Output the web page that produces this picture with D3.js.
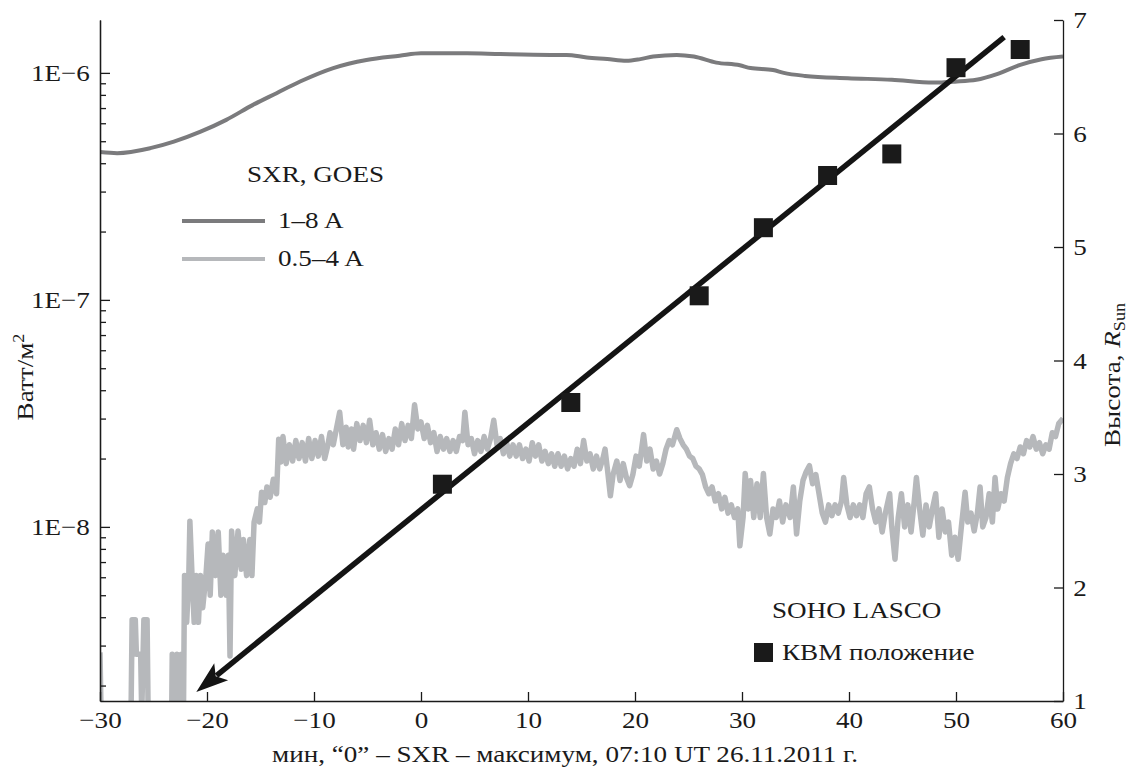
<!DOCTYPE html>
<html lang="ru">
<head>
<meta charset="UTF-8">
<title>SXR GOES и SOHO LASCO</title>
<script src="https://cdn.jsdelivr.net/npm/d3@7"></script>
<style>
  body { margin: 0; background: #fff; }
  svg { display: block; }
  text { font-family: "Liberation Serif", "DejaVu Serif", serif; fill: #1a1a1a; }
</style>
</head>
<body>
<div id="chart"></div>
<script>
// ---- data ----
const timeTicks = [-30, -20, -10, 0, 10, 20, 30, 40, 50, 60];
const heightTicks = [1, 2, 3, 4, 5, 6, 7];
const fluxMajorTicks = [1e-8, 1e-7, 1e-6];

// GOES 1-8 A, [minutes, W/m2]
const sxrLong = [
  [-30, 4.48e-7], [-28.4, 4.43e-7], [-25.3, 4.66e-7], [-23.1, 4.98e-7], [-20.6, 5.51e-7],
  [-18.2, 6.21e-7], [-15.7, 7.23e-7], [-13.5, 8.14e-7], [-11.3, 9.16e-7], [-8.2, 1.05e-6],
  [-5.1, 1.14e-6], [-2.0, 1.19e-6], [0, 1.22e-6], [4.3, 1.22e-6], [7.4, 1.21e-6],
  [12.1, 1.2e-6], [13.6, 1.2e-6], [15.5, 1.17e-6], [17.4, 1.15e-6], [19.2, 1.13e-6],
  [20.5, 1.15e-6], [21.7, 1.18e-6], [23.9, 1.2e-6], [25.5, 1.18e-6], [27.6, 1.11e-6],
  [29.8, 1.08e-6], [30.8, 1.05e-6], [32.9, 1.03e-6], [33.9, 1.0e-6], [35.9, 0.97e-6],
  [39.9, 0.948e-6], [44.0, 0.932e-6], [47.9, 0.906e-6], [49.9, 0.915e-6], [51.9, 0.932e-6],
  [53.9, 0.99e-6], [56.0, 1.084e-6], [58.0, 1.149e-6], [60.0, 1.18e-6]
];

// GOES 0.5-4 A, [minutes, W/m2] (values under 1.7e-9 fall off the axis)
const sxrShort = [
  [-30, 2.8e-9], [-29.9, 1.5e-9], [-27.1, 1.5e-9], [-27.0, 3.9e-9], [-26.7, 3.9e-9],
  [-26.6, 2.75e-9], [-26.2, 2.75e-9], [-26.1, 1.5e-9], [-25.9, 3.9e-9], [-25.6, 3.9e-9],
  [-25.5, 1.5e-9], [-23.3, 1.5e-9], [-23.25, 2.75e-9], [-23.0, 1.5e-9], [-22.8, 2.75e-9],
  [-22.6, 1.5e-9], [-22.4, 2.75e-9], [-22.2, 1.5e-9], [-22.1, 6.1e-9], [-21.9, 3.8e-9],
  [-21.7, 6.1e-9], [-21.6, 1.06e-8], [-21.4, 6.1e-9], [-21.2, 3.8e-9], [-21.0, 6.1e-9],
  [-20.8, 3.8e-9], [-20.6, 6.1e-9], [-20.4, 4.4e-9], [-20.1, 6.1e-9], [-19.9, 8.4e-9],
  [-19.7, 5.0e-9], [-19.5, 9.5e-9], [-19.2, 6.1e-9], [-18.95, 9.5e-9], [-18.7, 5.0e-9],
  [-18.5, 7.5e-9], [-18.2, 5.0e-9], [-18.0, 7.5e-9], [-17.85, 2.7e-9], [-17.7, 9.6e-9],
  [-17.4, 6.1e-9], [-17.1, 9.6e-9], [-16.8, 6.5e-9], [-16.6, 8.8e-9], [-16.3, 6.1e-9],
  [-16.0, 8.8e-9], [-15.8, 6.1e-9], [-15.6, 1.05e-8], [-15.3, 1.2e-8], [-15.1, 1.05e-8],
  [-14.9, 1.42e-8], [-14.6, 1.28e-8], [-14.4, 1.5e-8], [-14.1, 1.35e-8], [-13.8, 1.62e-8],
  [-13.5, 1.4e-8], [-13.3, 2.43e-8], [-13.1, 1.93e-8], [-12.9, 2.5e-8], [-12.6, 1.9e-8],
  [-12.3, 2.3e-8], [-12.0, 1.95e-8], [-11.7, 2.4e-8], [-11.4, 2.0e-8], [-11.1, 2.35e-8],
  [-10.8, 1.95e-8], [-10.5, 2.45e-8], [-10.2, 2.0e-8], [-9.9, 2.4e-8], [-9.6, 2.05e-8],
  [-9.3, 2.5e-8], [-9.0, 2.0e-8], [-8.7, 2.3e-8], [-8.5, 2.6e-8], [-8.2, 2.3e-8],
  [-7.6, 3.2e-8], [-7.3, 2.3e-8], [-7.0, 2.75e-8], [-6.8, 2.25e-8], [-6.5, 2.7e-8],
  [-6.3, 2.2e-8], [-6.0, 2.85e-8], [-5.7, 2.4e-8], [-5.4, 2.8e-8], [-5.1, 2.35e-8],
  [-4.8, 2.95e-8], [-4.5, 2.3e-8], [-4.2, 2.6e-8], [-3.9, 2.2e-8], [-3.6, 2.55e-8],
  [-3.3, 2.15e-8], [-3.0, 2.45e-8], [-2.7, 2.2e-8], [-2.4, 2.7e-8], [-2.1, 2.3e-8],
  [-1.8, 2.85e-8], [-1.5, 2.4e-8], [-1.2, 2.8e-8], [-0.9, 2.45e-8], [-0.6, 3.45e-8],
  [-0.3, 2.7e-8], [0.0, 2.9e-8], [0.3, 2.45e-8], [0.6, 2.8e-8], [0.9, 2.35e-8],
  [1.2, 2.6e-8], [1.5, 2.15e-8], [1.8, 2.5e-8], [2.1, 2.2e-8], [2.4, 2.45e-8],
  [2.7, 2.15e-8], [3.0, 2.4e-8], [3.3, 2.15e-8], [3.6, 2.5e-8], [3.9, 2.4e-8],
  [4.1, 3.2e-8], [4.4, 2.3e-8], [4.7, 2.45e-8], [5.0, 2.1e-8], [5.3, 2.4e-8],
  [5.6, 2.15e-8], [5.9, 2.5e-8], [6.2, 2.2e-8], [6.5, 2.45e-8], [6.8, 2.95e-8],
  [7.1, 2.3e-8], [7.4, 2.45e-8], [7.7, 2.1e-8], [8.0, 2.35e-8], [8.3, 2.05e-8],
  [8.6, 2.3e-8], [8.9, 2.05e-8], [9.2, 2.3e-8], [9.5, 2.0e-8], [9.8, 2.2e-8],
  [10.1, 1.95e-8], [10.4, 2.35e-8], [10.7, 2.05e-8], [11.0, 2.3e-8], [11.3, 1.95e-8],
  [11.6, 2.15e-8], [11.9, 1.9e-8], [12.2, 2.1e-8], [12.5, 1.85e-8], [12.8, 2.1e-8],
  [13.1, 1.85e-8], [13.4, 2.05e-8], [13.7, 1.8e-8], [14.0, 2.0e-8], [14.3, 1.85e-8],
  [14.6, 2.2e-8], [14.9, 1.9e-8], [15.2, 2.4e-8], [15.5, 1.95e-8], [15.8, 2.1e-8],
  [16.1, 1.8e-8], [16.4, 2.05e-8], [16.7, 1.8e-8], [17.0, 2.0e-8], [17.2, 2.2e-8],
  [17.45, 1.75e-8], [17.7, 1.37e-8], [17.95, 1.7e-8], [18.3, 1.95e-8], [18.6, 1.6e-8],
  [18.9, 1.9e-8], [19.2, 1.65e-8], [19.5, 1.52e-8], [19.8, 1.7e-8], [20.1, 2.05e-8],
  [20.4, 1.85e-8], [20.8, 2.55e-8], [21.1, 1.95e-8], [21.4, 2.2e-8], [21.7, 1.8e-8],
  [22.0, 1.95e-8], [22.3, 1.71e-8], [22.6, 1.9e-8], [22.9, 2.2e-8], [23.2, 2.4e-8],
  [23.5, 2.3e-8], [23.9, 2.68e-8], [24.2, 2.45e-8], [24.5, 2.3e-8], [24.8, 2.2e-8],
  [25.1, 2.05e-8], [25.4, 2.0e-8], [25.7, 1.85e-8], [26.0, 1.8e-8], [26.3, 1.7e-8],
  [26.6, 1.5e-8], [26.9, 1.4e-8], [27.2, 1.5e-8], [27.5, 1.3e-8], [27.8, 1.4e-8],
  [28.1, 1.2e-8], [28.4, 1.35e-8], [28.7, 1.15e-8], [29.0, 1.25e-8], [29.3, 1.1e-8],
  [29.6, 1.2e-8], [29.8, 0.825e-8], [30.1, 1.1e-8], [30.3, 1.72e-8], [30.6, 1.2e-8],
  [30.8, 1.6e-8], [31.1, 1.1e-8], [31.4, 1.55e-8], [31.7, 1.1e-8], [32.0, 1.72e-8],
  [32.3, 1.1e-8], [32.6, 0.93e-8], [32.9, 1.2e-8], [33.2, 1.1e-8], [33.5, 1.3e-8],
  [33.8, 1.05e-8], [34.1, 1.25e-8], [34.5, 1.1e-8], [34.8, 1.5e-8], [35.1, 0.93e-8],
  [35.4, 1.3e-8], [35.7, 1.6e-8], [36.0, 1.75e-8], [36.3, 1.86e-8], [36.6, 1.55e-8],
  [36.9, 1.7e-8], [37.2, 1.4e-8], [37.5, 1.15e-8], [37.8, 1.05e-8], [38.1, 1.25e-8],
  [38.4, 1.12e-8], [38.7, 1.25e-8], [39.0, 1.15e-8], [39.3, 1.3e-8], [39.5, 1.65e-8],
  [39.8, 1.25e-8], [40.1, 1.1e-8], [40.4, 1.25e-8], [40.7, 1.12e-8], [41.0, 1.25e-8],
  [41.3, 1.1e-8], [41.6, 1.4e-8], [41.9, 1.5e-8], [42.2, 1.2e-8], [42.5, 1.05e-8],
  [42.8, 1.2e-8], [43.1, 0.95e-8], [43.4, 1.15e-8], [43.8, 1.4e-8], [44.0, 1.0e-8],
  [44.3, 0.72e-8], [44.6, 1.1e-8], [44.9, 1.4e-8], [45.2, 1.0e-8], [45.5, 1.25e-8],
  [45.8, 0.95e-8], [46.1, 1.3e-8], [46.3, 1.65e-8], [46.6, 1.2e-8], [46.9, 0.92e-8],
  [47.2, 1.25e-8], [47.5, 1.0e-8], [47.8, 1.2e-8], [48.1, 1.4e-8], [48.4, 0.9e-8],
  [48.7, 1.2e-8], [49.0, 0.95e-8], [49.3, 1.05e-8], [49.6, 0.75e-8], [49.9, 0.9e-8],
  [50.2, 0.72e-8], [50.5, 1.0e-8], [50.85, 1.42e-8], [51.1, 1.05e-8], [51.4, 1.15e-8],
  [51.7, 0.96e-8], [52.0, 1.15e-8], [52.25, 1.5e-8], [52.5, 1.0e-8], [52.8, 1.1e-8],
  [53.1, 1.4e-8], [53.4, 1.05e-8], [53.65, 1.65e-8], [53.9, 1.2e-8], [54.2, 1.4e-8],
  [54.5, 1.3e-8], [54.8, 1.65e-8], [55.1, 1.9e-8], [55.4, 2.1e-8], [55.7, 2.0e-8],
  [56.0, 2.25e-8], [56.3, 2.1e-8], [56.6, 2.4e-8], [56.9, 2.25e-8], [57.2, 2.5e-8],
  [57.5, 2.2e-8], [57.8, 2.35e-8], [58.1, 2.1e-8], [58.4, 2.3e-8], [58.7, 2.2e-8],
  [59.0, 2.6e-8], [59.3, 2.5e-8], [59.6, 2.85e-8], [60.0, 3.0e-8]
];

// SOHO LASCO CME front, minutes and R_Sun
const cmeTimes = [2, 14, 26, 32, 38, 44, 50, 56];
const cmeHeights = [2.91, 3.63, 4.57, 5.17, 5.63, 5.82, 6.58, 6.74];

// fitted line (arrow drawn at its lower end)
const fitLine = [[-21, 1.08], [54.5, 6.85]];

// ---- layout ----
const width = 1130, height = 769;
const margin = {top: 20, right: 67, bottom: 68, left: 100};
const iw = width - margin.left - margin.right;
const ih = height - margin.top - margin.bottom;

// the printed type is a little wide, so text is stretched sideways
const fontSize = 24;
const stretch = 1.13;

const x = d3.scaleLinear().domain([-30, 60]).range([margin.left, margin.left + iw]);
const yFlux = d3.scaleLog().domain([1.71e-9, 1.71e-6]).range([margin.top + ih, margin.top]);
const yHeight = d3.scaleLinear().domain([1, 7]).range([margin.top + ih, margin.top]);

const svg = d3.select("#chart").append("svg")
    .attr("width", width)
    .attr("height", height)
    .attr("viewBox", [0, 0, width, height]);

svg.append("defs").append("clipPath").attr("id", "plot")
  .append("rect")
    .attr("x", margin.left).attr("y", 0)
    .attr("width", iw).attr("height", margin.top + ih);

const plot = svg.append("g").attr("clip-path", "url(#plot)");

// 0.5-4 A
plot.append("path")
    .datum(sxrShort)
    .attr("fill", "none")
    .attr("stroke", "#b6b8bb")
    .attr("stroke-width", 5.5)
    .attr("stroke-linejoin", "round")
    .attr("d", d3.line().x(d => x(d[0])).y(d => yFlux(d[1])));

// 1-8 A
plot.append("path")
    .datum(sxrLong)
    .attr("fill", "none")
    .attr("stroke", "#7b7b7d")
    .attr("stroke-width", 4)
    .attr("d", d3.line().curve(d3.curveMonotoneX).x(d => x(d[0])).y(d => yFlux(d[1])));

// fit line with arrow head at the start
const p0 = [x(fitLine[0][0]), yHeight(fitLine[0][1])];
const p1 = [x(fitLine[1][0]), yHeight(fitLine[1][1])];
const len = Math.hypot(p1[0] - p0[0], p1[1] - p0[1]);
const u = [(p1[0] - p0[0]) / len, (p1[1] - p0[1]) / len];
const n = [-u[1], u[0]];
const headL = 32, headW = 11;
const base = [p0[0] + u[0] * headL, p0[1] + u[1] * headL];

svg.append("line")
    .attr("x1", base[0] - u[0] * 6).attr("y1", base[1] - u[1] * 6)
    .attr("x2", p1[0]).attr("y2", p1[1])
    .attr("stroke", "#141414")
    .attr("stroke-width", 5.5);

svg.append("path")
    .attr("fill", "#141414")
    .attr("d", d3.line()([
      p0,
      [base[0] + n[0] * headW, base[1] + n[1] * headW],
      [base[0] - u[0] * 7, base[1] - u[1] * 7],
      [base[0] - n[0] * headW, base[1] - n[1] * headW]
    ]) + "Z");

// CME points
const sq = 19;
svg.append("g")
  .selectAll("rect")
  .data(cmeTimes)
  .join("rect")
    .attr("x", d => x(d) - sq / 2)
    .attr("y", (d, i) => yHeight(cmeHeights[i]) - sq / 2)
    .attr("width", sq)
    .attr("height", sq)
    .attr("fill", "#1a1a1a");

// ---- axes ----
function styleAxis(g) {
  g.select(".domain").attr("stroke", "#1a1a1a").attr("stroke-width", 1.3);
  g.selectAll(".tick line").attr("stroke", "#1a1a1a").attr("stroke-width", 1.3);
  g.selectAll(".tick text")
      .attr("font-family", "Liberation Serif, DejaVu Serif, serif")
      .attr("font-size", fontSize)
      .attr("fill", "#1a1a1a")
      .attr("transform", `scale(${stretch},1)`);
}

const fluxMinorTicks = [1e-9, 1e-8, 1e-7].flatMap(p => [2, 3, 4, 5, 6, 7, 8, 9].map(k => k * p));

svg.append("g")
    .attr("transform", `translate(${margin.left},0)`)
    .call(d3.axisLeft(yFlux).tickValues(fluxMinorTicks).tickFormat("")
      .tickSizeInner(-6).tickSizeOuter(0))
    .call(styleAxis);

svg.append("g")
    .attr("transform", `translate(${margin.left},0)`)
    .call(d3.axisLeft(yFlux).tickValues(fluxMajorTicks)
      .tickFormat(d => "1E−" + Math.round(-Math.log10(d)))
      .tickSizeInner(-10).tickSizeOuter(0).tickPadding(9))
    .call(styleAxis);

svg.append("g")
    .attr("transform", `translate(0,${margin.top + ih})`)
    .call(d3.axisBottom(x).tickValues(timeTicks).tickFormat(d3.format("d"))
      .tickSizeInner(-9).tickSizeOuter(0).tickPadding(10))
    .call(styleAxis);

svg.append("g")
    .attr("transform", `translate(${margin.left + iw},0)`)
    .call(d3.axisRight(yHeight).tickValues(heightTicks).tickFormat(d3.format("d"))
      .tickSizeInner(-9).tickSizeOuter(0).tickPadding(9))
    .call(styleAxis);

// text helper: placed at (tx, ty), optional rotation, stretched along the baseline
function addText(tx, ty, anchor, rot) {
  return svg.append("text")
      .attr("transform", `translate(${tx},${ty})` + (rot ? ` rotate(${rot})` : "") + ` scale(${stretch},1)`)
      .attr("text-anchor", anchor)
      .attr("font-size", fontSize);
}

// axis titles
addText(565, 762, "middle").text("мин, “0” – SXR – максимум, 07:10 UT 26.11.2011 г.");

const leftTitle = addText(33, 377, "middle", -90);
leftTitle.append("tspan").text("Ватт/м");
leftTitle.append("tspan").attr("dy", -9).attr("font-size", 16).text("2");

const rightTitle = addText(1120, 375, "middle", -90);
rightTitle.append("tspan").text("Высота, ");
rightTitle.append("tspan").attr("font-style", "italic").text("R");
rightTitle.append("tspan").attr("dy", 5).attr("font-size", 16).text("Sun");

// ---- legends ----
addText(247, 182, "start").text("SXR, GOES");

const sxrLegend = [
  {label: "1–8 A", color: "#7b7b7d", y: 221},
  {label: "0.5–4 A", color: "#b6b8bb", y: 259}
];
sxrLegend.forEach(d => {
  svg.append("line")
      .attr("x1", 182).attr("x2", 265)
      .attr("y1", d.y).attr("y2", d.y)
      .attr("stroke", d.color)
      .attr("stroke-width", 4);
  addText(278, d.y + 7, "start").text(d.label);
});

addText(772, 618, "start").text("SOHO LASCO");
svg.append("rect").attr("x", 754).attr("y", 643).attr("width", sq).attr("height", sq).attr("fill", "#1a1a1a");
addText(782, 660, "start").text("КВМ положение");
</script>
</body>
</html>
